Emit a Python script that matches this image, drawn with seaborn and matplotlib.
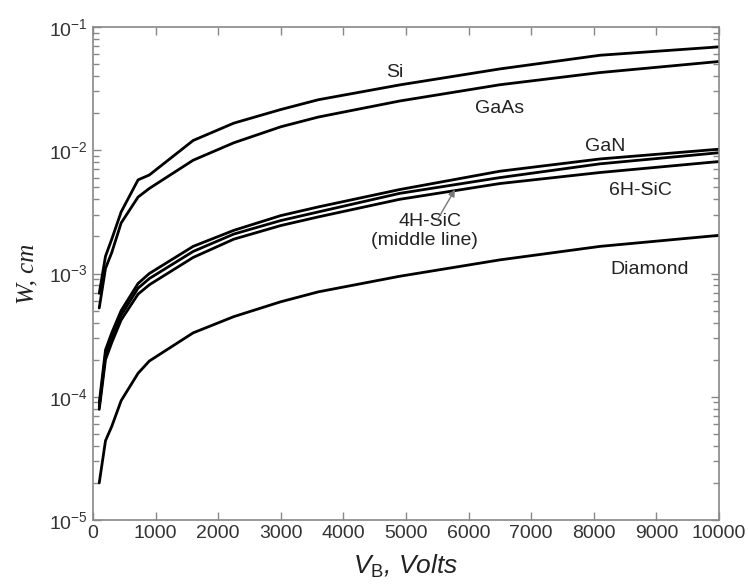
import numpy as np
import pandas as pd
import matplotlib
matplotlib.use("Agg")
import matplotlib.pyplot as plt
import matplotlib.ticker as mticker
import seaborn as sns

# breakdown voltage (V) and depletion width W (cm)
vb = [100, 200, 300, 450, 720, 900, 1600, 2250, 3000, 3600, 4900, 6500, 8100, 10000]
w_si = [6.9e-4, 1.38e-3, 1.9e-3, 3.16e-3, 5.75e-3, 6.3e-3, 1.2e-2, 1.66e-2, 2.14e-2, 2.57e-2, 3.39e-2, 4.57e-2, 5.9e-2, 6.9e-2]
w_gaas = [5.25e-4, 1.1e-3, 1.48e-3, 2.57e-3, 4.17e-3, 4.9e-3, 8.3e-3, 1.15e-2, 1.55e-2, 1.86e-2, 2.51e-2, 3.4e-2, 4.27e-2, 5.25e-2]
w_gan = [8.9e-5, 2.4e-4, 3.3e-4, 5.0e-4, 8.3e-4, 1.0e-3, 1.66e-3, 2.24e-3, 2.95e-3, 3.47e-3, 4.8e-3, 6.76e-3, 8.5e-3, 1.02e-2]
w_4h = [8.3e-5, 2.2e-4, 3.0e-4, 4.6e-4, 7.6e-4, 9.1e-4, 1.51e-3, 2.09e-3, 2.69e-3, 3.16e-3, 4.47e-3, 6.0e-3, 7.76e-3, 9.55e-3]
w_6h = [7.9e-5, 2.0e-4, 2.75e-4, 4.2e-4, 6.8e-4, 8.1e-4, 1.35e-3, 1.9e-3, 2.45e-3, 2.88e-3, 4.0e-3, 5.37e-3, 6.6e-3, 8.1e-3]
w_diamond = [2.0e-5, 4.4e-5, 5.75e-5, 9.3e-5, 1.55e-4, 1.95e-4, 3.3e-4, 4.47e-4, 5.9e-4, 7.1e-4, 9.5e-4, 1.29e-3, 1.66e-3, 2.04e-3]

sns.set_style("ticks")
plt.rcParams['font.family'] = ['Liberation Sans', 'DejaVu Sans']
plt.rcParams['mathtext.fontset'] = 'custom'
plt.rcParams['mathtext.rm'] = 'Liberation Sans'
plt.rcParams['mathtext.it'] = 'Liberation Sans:italic'

fig = plt.figure(figsize=(7.48, 5.87), dpi=100)
ax = fig.add_axes([0.1243, 0.1141, 0.8369, 0.8399])

for w in [w_si, w_gaas, w_gan, w_4h, w_6h, w_diamond]:
    sns.lineplot(x=vb, y=w, ax=ax, color="black", lw=2)

ax.set_yscale("log")
ax.set_xlim(0, 10000)
ax.set_ylim(1e-5, 1e-1)
ax.set_xticks(np.arange(0, 10001, 1000))
ax.yaxis.set_minor_locator(mticker.LogLocator(base=10, subs=np.arange(2, 10), numticks=50))
ax.yaxis.set_minor_formatter(mticker.NullFormatter())

for s in ax.spines.values():
    s.set_color("#888888")
    s.set_linewidth(1.2)
ax.tick_params(which="both", direction="in", top=True, right=True, colors="#888888",
               labelcolor="#333333", labelsize=14)
ax.tick_params(which="major", length=6, width=1)
ax.tick_params(axis="y", which="minor", length=4, width=1, left=True, right=True)
ax.tick_params(axis="x", which="minor", top=False, bottom=False)

ax.set_xlabel(r"$V_{\mathrm{B}}$, Volts", fontsize=19, style="italic", color="#222222", labelpad=8)
ax.set_ylabel("W, cm", fontsize=18, family="Liberation Serif", style="italic", color="#222222", labelpad=8)

tk = dict(fontsize=14, color="#222222", ha="center", va="center")
ax.text(4820, 0.043, "Si", **tk)
ax.text(6500, 0.022, "GaAs", **tk)
ax.text(8180, 0.0108, "GaN", **tk)
ax.text(8740, 0.0047, "6H-SiC", **tk)
ax.text(5380, 0.00263, "4H-SiC", **tk)
ax.text(5300, 0.00184, "(middle line)", **tk)
ax.text(8900, 0.00107, "Diamond", **tk)
ax.annotate("", xy=(5783, 0.0048), xytext=(5500, 0.00272),
            arrowprops=dict(arrowstyle="-|>", color="#777777", lw=1, mutation_scale=10,
                            shrinkA=0, shrinkB=0))

fig.savefig("out.png", dpi=100)
